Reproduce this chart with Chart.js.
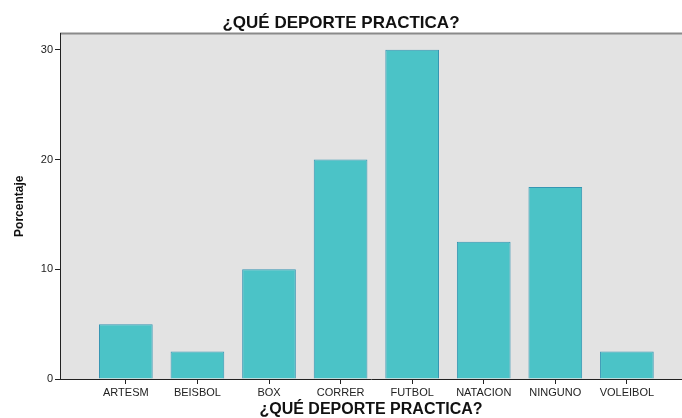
<!DOCTYPE html>
<html>
<head>
<meta charset="utf-8">
<script src="https://cdn.jsdelivr.net/npm/chart.js@4.4.1/dist/chart.umd.min.js"></script>
<style>
  html, body { margin: 0; padding: 0; background: #fff; }
  #wrap { width: 682px; height: 418px; }
</style>
</head>
<body>
<div id="wrap"><canvas id="grafico" width="682" height="418"></canvas></div>
<script>
var deportes = ["ARTESM", "BEISBOL", "BOX", "CORRER", "FUTBOL", "NATACION", "NINGUNO", "VOLEIBOL"];
var porcentajes = [5, 2.5, 10, 20, 30, 12.5, 17.5, 2.5];
var ticksY = [0, 10, 20, 30];

var fuente = "'Liberation Sans', Arial, sans-serif";

// fondo gris del area de trazado y borde superior
var fondo = {
    id: 'fondo',
    beforeDraw: function(chart) {
        var ctx = chart.ctx, a = chart.chartArea;
        ctx.save();
        ctx.fillStyle = '#e3e3e3';
        ctx.fillRect(a.left, a.top, a.right - a.left, a.bottom - a.top);
        ctx.strokeStyle = '#8a8a8a';
        ctx.lineWidth = 2;
        ctx.beginPath();
        ctx.moveTo(a.left, a.top);
        ctx.lineTo(a.right, a.top);
        ctx.stroke();
        ctx.restore();
    }
};

var ctx = document.getElementById('grafico').getContext('2d');
var chart = new Chart(ctx, {
    type: 'bar',
    data: {
        datasets: [
            {
                label: "Porcentaje",
                data: porcentajes.map(function(v, i) { return {x: i, y: v}; }),
                backgroundColor: '#4bc3c7',
                borderColor: '#3596b3',
                borderWidth: 1,
                barPercentage: 0.75,
                categoryPercentage: 1
            }
        ]
    },
    options: {
        responsive: false,
        animation: false,
        layout: { padding: { left: 0, right: 0, top: 0, bottom: 0 } },
        plugins: {
            legend: { display: false },
            tooltip: { enabled: false },
            title: {
                display: true,
                text: '¿QUÉ DEPORTE PRACTICA?',
                color: '#111',
                font: { family: fuente, size: 17, weight: 'bold' },
                padding: { top: 13, bottom: 0 }
            }
        },
        scales: {
            x: {
                type: 'linear',
                offset: false,
                min: -0.92,
                max: 7.77,
                afterBuildTicks: function(s) {
                    s.ticks = deportes.map(function(_, i) { return {value: i}; });
                },
                afterFit: function(s) { s.height = 39; },
                grid: { offset: false, drawOnChartArea: false, drawTicks: true, tickLength: 5, color: '#222' },
                border: { display: true, color: '#222', width: 1 },
                ticks: {
                    color: '#222',
                    padding: 2,
                    maxRotation: 0,
                    autoSkip: false,
                    font: { family: fuente, size: 11 },
                    callback: function(v) { return deportes[v]; }
                },
                title: {
                    display: true,
                    text: '¿QUÉ DEPORTE PRACTICA?',
                    color: '#111',
                    font: { family: fuente, size: 16, weight: 'bold' },
                    padding: { top: 0, bottom: -1 }
                }
            },
            y: {
                min: 0,
                max: 31.5,
                afterBuildTicks: function(s) {
                    s.ticks = ticksY.map(function(v) { return {value: v}; });
                },
                afterFit: function(s) { s.width = 60; },
                grid: { drawOnChartArea: false, drawTicks: true, tickLength: 5, color: '#222' },
                border: { display: true, color: '#222', width: 1 },
                ticks: {
                    color: '#222',
                    padding: 2,
                    font: { family: fuente, size: 11 }
                },
                title: {
                    display: true,
                    text: 'Porcentaje',
                    color: '#111',
                    font: { family: fuente, size: 12, weight: 'bold' },
                    padding: { top: 12, bottom: 0 }
                }
            }
        }
    },
    plugins: [fondo]
});
</script>
</body>
</html>
